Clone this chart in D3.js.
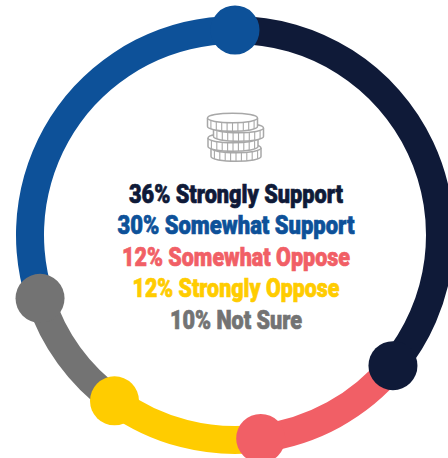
<!DOCTYPE html>
<html><head><meta charset="utf-8">
<script src="https://cdn.jsdelivr.net/npm/d3@7"></script>
<style>html,body{margin:0;padding:0;background:#fff;overflow:hidden}svg{display:block}</style>
</head><body><svg id="c" width="448" height="458"></svg>
<script>
const ringNames=["Strongly Support","Somewhat Oppose","Strongly Oppose","Not Sure","Somewhat Support"];
const ringValues=[36,12,12,10,30];
const ringColors=["#0f1a38","#f15f66","#ffcc00","#737373","#0d5199"];
const labelNames=["Strongly Support","Somewhat Support","Somewhat Oppose","Strongly Oppose","Not Sure"];
const labelValues=[36,30,12,12,10];
const labelColors=["#0f1a38","#0d5199","#f15f66","#ffcc00","#737373"];
const labelWidths=[214,237,228,207,132];
const labelBaselines=[203,234,266,297,329];

const svg=d3.select("#c");
const cx=235,cy=235,R=205,thick=28,dotR=24.5;
const pie=d3.pie().sort(null).value(d=>d)(ringValues);
const arc=d3.arc().innerRadius(R-thick/2).outerRadius(R+thick/2);
const g=svg.append("g").attr("transform",`translate(${cx},${cy})`);
g.selectAll("path").data(pie).join("path").attr("d",arc).attr("fill",(d,i)=>ringColors[i]);
g.selectAll("circle").data(pie).join("circle")
 .attr("cx",d=>R*Math.sin(d.endAngle)).attr("cy",d=>-R*Math.cos(d.endAngle))
 .attr("r",dotR).attr("fill",(d,i)=>ringColors[i]);

// coin stack icon
const stack=[{x:236,y:148},{x:233,y:138},{x:238.5,y:128},{x:232.5,y:118}];
const ico=svg.append("g").attr("fill","#fff").attr("stroke","#a8a8a8").attr("stroke-width",1.5);
stack.forEach(c=>{
 const a=25,b=4.8,h=8.5;
 ico.append("path").attr("d",`M${c.x-a},${c.y}V${c.y+h}A${a},${b} 0 0 0 ${c.x+a},${c.y+h}V${c.y}`);
 ico.append("ellipse").attr("cx",c.x).attr("cy",c.y).attr("rx",a).attr("ry",b);
 d3.range(-4,5).forEach(k=>{
  const x=k*5.4,y=c.y+b*Math.sqrt(1-(x*x)/(a*a));
  ico.append("line").attr("x1",c.x+x).attr("x2",c.x+x).attr("y1",y).attr("y2",y+h).attr("stroke-width",1.1);
 });
});

svg.append("g").selectAll("text").data(labelNames).join("text")
 .attr("x",236).attr("y",(d,i)=>labelBaselines[i])
 .attr("text-anchor","middle")
 .attr("textLength",(d,i)=>labelWidths[i]).attr("lengthAdjust","spacingAndGlyphs")
 .attr("font-family","Roboto,sans-serif").attr("font-weight",900).attr("font-size",26)
 .attr("fill",(d,i)=>labelColors[i]).attr("stroke",(d,i)=>labelColors[i]).attr("stroke-width",0.7)
 .text((d,i)=>`${labelValues[i]}% ${d}`);
</script></body></html>
